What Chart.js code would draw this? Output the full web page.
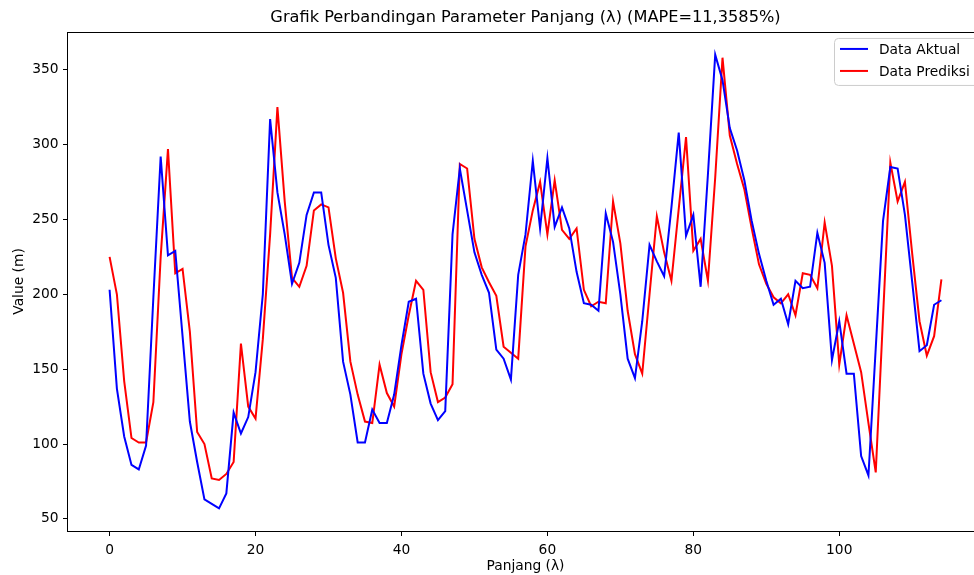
<!DOCTYPE html>
<html>
<head>
<meta charset="utf-8">
<title>Grafik Perbandingan Parameter Panjang</title>
<script src="https://cdn.jsdelivr.net/npm/chart.js@4.4.0/dist/chart.umd.min.js"></script>
<style>
  html, body { margin: 0; padding: 0; background: #fff; overflow: hidden; }
  #wrap { position: relative; width: 974px; height: 575px; overflow: hidden; }
  #grafik { position: absolute; left: 0; top: 0; }
</style>
</head>
<body>
<div id="wrap"><canvas id="grafik" width="1000" height="575"></canvas></div>
<script>
// data (indeks 0..114)
const dataAktual = [
  203, 137, 105, 86, 83, 99, 198, 292, 226, 229,
  172, 115, 88, 63, 60, 57, 67, 121, 107, 118,
  148, 200, 317, 268, 240, 207, 221, 253, 268, 268,
  233, 211, 155, 133, 101, 101, 123, 114, 114, 133,
  166, 195, 197, 147, 127, 116, 122, 240, 284, 256,
  228, 213, 201, 163, 157, 143, 213, 240, 289, 244,
  291, 245, 258, 244, 215, 194, 193, 189, 254, 235,
  200, 157, 144, 182, 233, 222, 212, 258, 308, 239,
  253, 205, 280, 360, 343, 311, 296, 276, 249, 227,
  209, 193, 197, 180, 209, 204, 205, 241, 221, 156,
  182, 147, 147, 92, 79, 164, 249, 285, 284, 253,
  208, 162, 166, 193, 196
];
const dataPrediksi = [
  225, 200, 142, 104, 101, 101, 128, 225, 297, 214,
  217, 175, 108, 100, 77, 76, 80, 88, 167, 125,
  117, 170, 240, 325, 262, 211, 205, 219, 256, 260,
  258, 224, 201, 155, 133, 115, 114, 153, 134, 125,
  160, 186, 209, 203, 148, 128, 131, 140, 287, 284,
  237, 218, 208, 199, 165, 161, 157, 232, 256, 275,
  240, 276, 243, 237, 244, 203, 192, 195, 194, 262,
  234, 189, 160, 147, 200, 252, 228, 209, 257, 305,
  229, 237, 209, 278, 358, 306, 287, 270, 244, 220,
  207, 198, 194, 200, 186, 214, 213, 204, 248, 219,
  153, 186, 167, 148, 114, 81, 185, 288, 262, 275,
  227, 182, 159, 172, 210
];
const xTicks = [0, 20, 40, 60, 80, 100];
const yTicks = [50, 100, 150, 200, 250, 300, 350];

const judul = 'Grafik Perbandingan Parameter Panjang (\u03bb) (MAPE=11,3585%)';
const labelX = 'Panjang (\u03bb)';
const labelY = 'Value (m)';

const FONT = "'DejaVu Sans', sans-serif";
Chart.defaults.font.family = FONT;
Chart.defaults.color = '#000';

function keTitik(arr) {
  return arr.map((v, i) => ({ x: i, y: v }));
}

// bingkai atas/kanan seperti spines matplotlib
const bingkai = {
  id: 'bingkai',
  afterDatasetsDraw(chart) {
    const { ctx, chartArea: a } = chart;
    ctx.save();
    ctx.strokeStyle = '#000';
    ctx.lineWidth = 1;
    ctx.strokeRect(Math.round(a.left) - 0.5, Math.round(a.top) + 0.5,
      Math.round(a.right - a.left) + 1, Math.round(a.bottom - a.top));
    ctx.restore();
  }
};

// legenda di pojok kanan atas
const legenda = {
  id: 'legenda',
  afterDraw(chart) {
    const { ctx, chartArea: a } = chart;
    const kiri = a.right - 149;
    const atas = a.top + 6;
    ctx.save();
    ctx.beginPath();
    ctx.roundRect(kiri + 0.5, atas + 0.5, 200, 47, 4);
    ctx.fillStyle = 'rgba(255,255,255,0.8)';
    ctx.fill();
    ctx.strokeStyle = '#cccccc';
    ctx.lineWidth = 1;
    ctx.stroke();
    ctx.font = '13.8px ' + FONT;
    ctx.textBaseline = 'middle';
    chart.data.datasets.forEach((ds, i) => {
      const y = atas + 11 + i * 22;
      ctx.strokeStyle = ds.borderColor;
      ctx.lineWidth = 2;
      ctx.beginPath();
      ctx.moveTo(kiri + 6, y);
      ctx.lineTo(kiri + 34, y);
      ctx.stroke();
      ctx.fillStyle = '#000';
      ctx.fillText(ds.label, kiri + 45, y + 1);
    });
    ctx.restore();
  }
};

new Chart(document.getElementById('grafik'), {
  type: 'line',
  data: {
    datasets: [
      {
        label: 'Data Aktual',
        data: keTitik(dataAktual),
        borderColor: '#0000ff',
        borderWidth: 2,
        pointRadius: 0,
        fill: false,
      },
      {
        label: 'Data Prediksi',
        data: keTitik(dataPrediksi),
        borderColor: '#ff0000',
        borderWidth: 2,
        pointRadius: 0,
        fill: false,
      },
    ],
  },
  options: {
    responsive: false,
    animation: false,
    devicePixelRatio: 1,
    layout: { padding: { left: 0, right: 17, top: 0, bottom: 0 } },
    plugins: {
      legend: { display: false },
      tooltip: { enabled: false },
      title: {
        display: true,
        text: judul,
        fullSize: false,
        color: '#000',
        font: { size: 16.2, weight: 'normal' },
        padding: { top: 7.7, bottom: 4.8 },
      },
    },
    scales: {
      x: {
        type: 'linear',
        min: -5.7,
        max: 119.7,
        afterBuildTicks: (s) => { s.ticks = xTicks.map(v => ({ value: v })); },
        afterFit: (s) => { s.height = 44; },
        grid: { drawOnChartArea: false, drawTicks: true, tickLength: 5, color: '#000' },
        border: { display: false },
        ticks: { color: '#000', padding: 6, maxRotation: 0, font: { size: 13.8 } },
        title: { display: true, text: labelX, color: '#000', font: { size: 13.8 }, padding: { top: 0, bottom: 0.5 } },
      },
      y: {
        type: 'linear',
        min: 41.9,
        max: 375.2,
        afterBuildTicks: (s) => { s.ticks = yTicks.map(v => ({ value: v })); },
        afterFit: (s) => { s.width = 68; },
        grid: { drawOnChartArea: false, drawTicks: true, tickLength: 5, color: '#000' },
        border: { display: false },
        ticks: { color: '#000', padding: 4.5, font: { size: 13.8 } },
        title: { display: true, text: labelY, color: '#000', font: { size: 13.8 }, padding: { top: 10.7, bottom: 0 } },
      },
    },
  },
  plugins: [bingkai, legenda],
});
</script>
</body>
</html>
